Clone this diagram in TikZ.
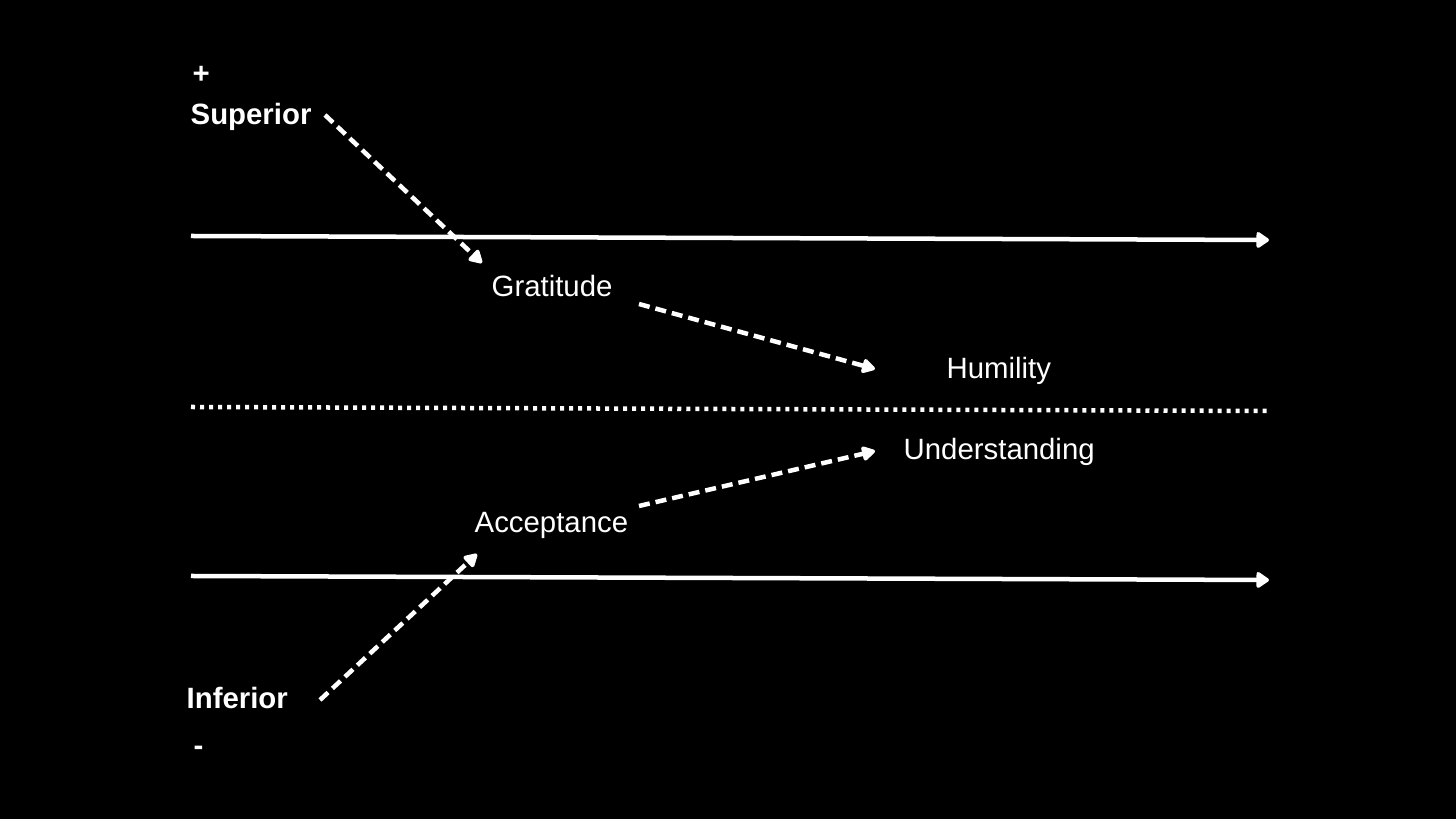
\documentclass[tikz,border=0pt]{standalone}
\usepackage{fontspec}
\setmainfont{Liberation Sans}
\usetikzlibrary{arrows.meta}

\begin{document}
\begin{tikzpicture}[x=0.01cm, y=-0.01cm,
  lbl/.style={anchor=base west, inner sep=0pt, text=white, font=\fontsize{8.35}{10}\selectfont},
  bold/.style={lbl, font=\fontsize{8.35}{10}\selectfont\bfseries},
  axis/.style={white, line width=0.045cm, -{Triangle[length=0.14cm, width=0.18cm, round]}},
  midline/.style={white, line width=0.045cm, dash pattern=on 0.04cm off 0.05cm},
  dasharrow/.style={white, line width=0.045cm, dash pattern=on 0.11cm off 0.06cm, -{Triangle[length=0.15cm, width=0.16cm, round]}}]
    \fill[black] (0,0) rectangle (1456,819);
    % labels
    \node[bold] (plus) at (192,84) {+};
    \node[bold] (sup) at (190,125) {Superior};
    \node[lbl] (grat) at (491,297) {Gratitude};
    \node[lbl] (hum) at (946,379) {Humility};
    \node[lbl] (und) at (903,460) {Understanding};
    \node[lbl] (acc) at (474,533) {Acceptance};
    \node[bold] (inf) at (186,709) {Inferior};
    \node[bold] (minus) at (193,756) {-};
    % line ends
    \coordinate (top0) at (191,236);
    \coordinate (top1) at (1269,240);
    \coordinate (mid0) at (191,407);
    \coordinate (mid1) at (1268,411);
    \coordinate (bot0) at (191,576);
    \coordinate (bot1) at (1269,580);
    \coordinate (supout) at (325,115);
    \coordinate (gratin) at (482,263);
    \coordinate (gratout) at (639,304);
    \coordinate (humin) at (875,369);
    \coordinate (infout) at (320,700);
    \coordinate (accin) at (477,554);
    \coordinate (accout) at (639,506);
    \coordinate (undin) at (875,451);
    \draw[axis] (top0) -- (top1);
    \draw[midline] (mid0) -- (mid1);
    \draw[axis] (bot0) -- (bot1);
    \draw[dasharrow] (supout) -- (gratin);
    \draw[dasharrow] (gratout) -- (humin);
    \draw[dasharrow] (infout) -- (accin);
    \draw[dasharrow] (accout) -- (undin);
\end{tikzpicture}
\end{document}
